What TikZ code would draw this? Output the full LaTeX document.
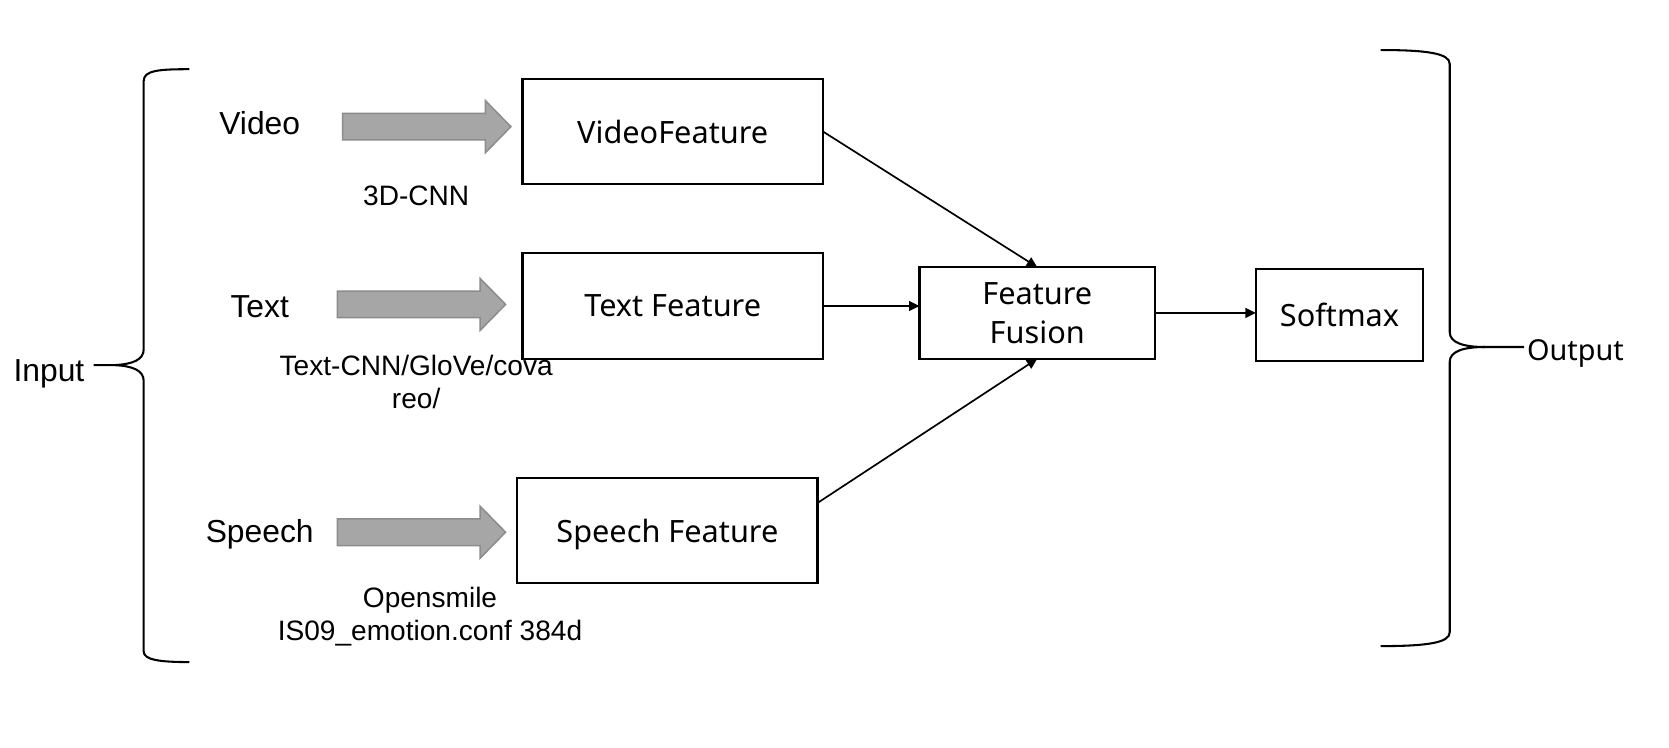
\documentclass[tikz,border=0pt]{standalone}
\usepackage{fontspec}
\setmainfont{Liberation Sans}
\newfontfamily\boxfont{Noto Sans}
\usetikzlibrary{arrows.meta,calc}
\definecolor{arrowfill}{RGB}{166,166,166}
\definecolor{arrowedge}{RGB}{140,140,140}
\tikzset{
  fbox/.style={draw=black, line width=0.6pt, inner sep=0pt, outer sep=0pt, text depth=0pt, font=\boxfont\fontsize{8.2}{10.5}\selectfont, align=center},
  conn/.style={draw=black, line width=0.45pt, -{Triangle[length=2.8pt,width=2.6pt]}},
  brace/.style={draw=black, line width=0.55pt},
  bigl/.style={font=\fontsize{8.5}{10}\selectfont},
  smalll/.style={font=\fontsize{7.5}{8.9}\selectfont, align=center},
  garrow/.pic={\draw[fill=arrowfill, draw=arrowedge, line width=0.4pt]
    (0,-12.5) -- (134,-12.5) -- (134,-24.5) -- (158,0) -- (134,24.5) -- (134,12.5) -- (0,12.5) -- cycle;}
}
\begin{document}
\begin{tikzpicture}[x=0.01cm,y=-0.01cm]
\useasboundingbox[fill=white] (0,0) rectangle (1568,702);

% left brace
\draw[brace] (178,65) .. controls (150,65) and (135,66) .. (135,76) -- (135,328)
  .. controls (135,338) and (125,342) .. (108,343) -- (88,343);
\draw[brace] (108,343) .. controls (125,344) and (135,348) .. (135,358) -- (135,612)
  .. controls (135,620) and (150,622) .. (178,622);
\node[bigl] (input) at (46,351) {Input};

% input labels
\node[bigl] (video) at (244,116) {Video};
\node[bigl] (text) at (244,288) {Text};
\node[bigl] (speech) at (244,502) {Speech};

% gray arrows
\pic at (322,119) {garrow};
\pic at (317,286) {garrow};
\pic at (317,500) {garrow};

% method labels
\node[smalll] (cnn3d) at (391,184) {3D-CNN};
\node[smalll] (textm) at (391,359) {Text-CNN/GloVe/cova\\reo/};
\node[smalll] (speechm) at (404,579.5) {Opensmile\\IS09\_emotion.conf 384d};

% boxes
\node[fbox, minimum width=2.82cm, minimum height=0.99cm] (vf) at (632,123.5) {VideoFeature};
\node[fbox, minimum width=2.82cm, minimum height=0.99cm] (tf) at (632,287.5) {Text Feature};
\node[fbox, minimum width=2.82cm, minimum height=0.99cm] (sf) at (627,498.5) {Speech Feature};
\node[fbox, minimum width=2.21cm, minimum height=0.86cm] (ff) at (974.5,294) {Feature\\Fusion};
\node[fbox, minimum width=1.57cm, minimum height=0.86cm] (sm) at (1258.5,296) {Softmax};

% connectors
\draw[conn] (vf.east) -- (ff.north);
\draw[conn] (tf.east) -- (tf.east -| ff.west);
\draw[conn] ([yshift=0.26cm]sf.east) -- (ff.south);
\draw[conn] (ff.east) -- (ff.east -| sm.west);

% right brace
\draw[brace] (1297,47) .. controls (1340,47) and (1362,50) .. (1362,60) -- (1362,312)
  .. controls (1362,322) and (1375,326) .. (1395,326) -- (1432,326);
\draw[brace] (1395,326) .. controls (1375,326) and (1362,330) .. (1362,340) -- (1362,594)
  .. controls (1362,604) and (1340,607) .. (1297,607);
\node[anchor=west, inner sep=0pt, font=\boxfont\fontsize{7.7}{10}\selectfont] (output) at (1434,332) {Output};
\end{tikzpicture}
\end{document}
